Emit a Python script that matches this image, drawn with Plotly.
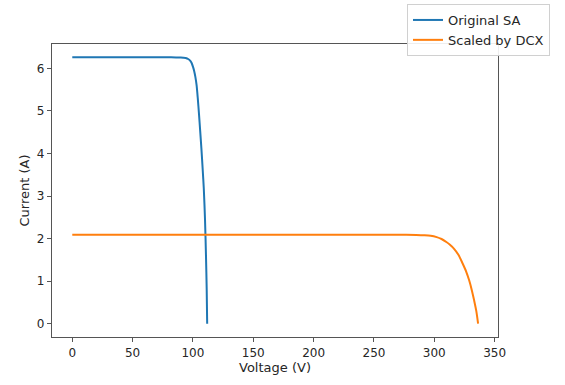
import plotly.graph_objects as go

# Original solar array I-V curve
orig_voltage = [0, 20, 40, 60, 80, 86, 90, 92, 94, 96, 98, 99, 100, 101, 102, 103, 104,
                105, 106, 107, 108, 109, 110, 110.8, 111.4, 111.8]
orig_current = [6.26, 6.26, 6.26, 6.26, 6.26, 6.258, 6.255, 6.25, 6.243, 6.22, 6.17, 6.12, 6.04,
                5.94, 5.80, 5.61, 5.30, 4.93, 4.53, 4.12, 3.66, 3.17, 2.45, 1.60, 0.80, 0.0]

# Scaled by DCX
dcx_voltage = [0, 100, 200, 250, 270, 285, 292, 297, 302, 306, 310, 313, 316.4, 320, 323.4,
               326.5, 328.9, 331, 333, 334.8, 336.3]
dcx_current = [2.09, 2.09, 2.09, 2.09, 2.09, 2.087, 2.08, 2.068, 2.035, 1.99, 1.92, 1.855, 1.76,
               1.62, 1.42, 1.22, 1.02, 0.80, 0.55, 0.30, 0.0]

x_ticks = [0, 50, 100, 150, 200, 250, 300, 350]
y_ticks = [0, 1, 2, 3, 4, 5, 6]

font = "DejaVu Sans"
text_color = "#262626"
fig = go.Figure()
fig.add_trace(go.Scatter(x=orig_voltage, y=orig_current, mode="lines", name="Original SA",
                         line=dict(color="#1f77b4", width=2, shape="spline", smoothing=0.8)))
fig.add_trace(go.Scatter(x=dcx_voltage, y=dcx_current, mode="lines", name="Scaled by DCX",
                         line=dict(color="#ff7f0e", width=2, shape="spline", smoothing=0.8)))

axis_common = dict(showgrid=False, zeroline=False, showline=True, mirror=True,
                   linecolor="#555", linewidth=1.3, ticks="outside", ticklen=4,
                   tickcolor="#555", automargin=False,
                   tickfont=dict(family=font, size=12, color=text_color))

fig.update_layout(
    width=565, height=385,
    margin=dict(l=52, r=67, t=44, b=48, autoexpand=False),
    paper_bgcolor="white", plot_bgcolor="white",
    font=dict(family=font, size=12, color=text_color),
    xaxis=dict(range=[-16.8, 352.8], tickvals=x_ticks,
               title=dict(text="Voltage (V)", font=dict(family=font, size=13, color=text_color),
                          standoff=4),
               **axis_common),
    yaxis=dict(range=[-0.313, 6.573], tickvals=y_ticks,
               title=dict(text="Current (A)", font=dict(family=font, size=13, color=text_color),
                          standoff=4),
               **axis_common),
    legend=dict(x=(407 - 52) / 446, y=(337 - 4) / 293, xanchor="left", yanchor="top",
                bgcolor="rgba(255,255,255,0.9)", bordercolor="#d0d0d0", borderwidth=1,
                font=dict(family=font, size=13, color=text_color),
                tracegroupgap=0, itemwidth=30),
    showlegend=True,
)

fig.write_html("out.html", config={"displayModeBar": False},
               post_script="document.body.style.margin='0';document.body.style.padding='0';")
